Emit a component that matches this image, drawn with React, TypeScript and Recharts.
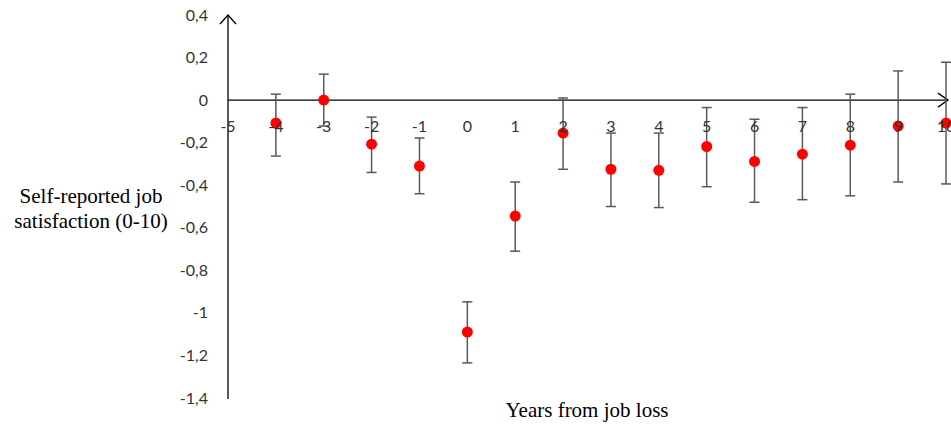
import React from 'react';
import { ScatterChart, Scatter, XAxis, YAxis, ErrorBar, ReferenceLine } from 'recharts';

const YEARS = [-4, -3, -2, -1, 0, 1, 2, 3, 4, 5, 6, 7, 8, 9, 10];
const EFFECT = [-0.108, 0.0, -0.207, -0.31, -1.09, -0.545, -0.155, -0.325, -0.33, -0.218, -0.288, -0.254, -0.212, -0.122, -0.108];
const CI_UPPER = [0.028, 0.122, -0.08, -0.178, -0.948, -0.385, 0.01, -0.155, -0.155, -0.035, -0.09, -0.035, 0.028, 0.137, 0.178];
const CI_LOWER = [-0.263, -0.122, -0.34, -0.44, -1.235, -0.71, -0.325, -0.5, -0.505, -0.407, -0.48, -0.468, -0.45, -0.385, -0.394];
const X_TICKS = [-5, -4, -3, -2, -1, 0, 1, 2, 3, 4, 5, 6, 7, 8, 9, 10];
const Y_TICKS = [0.4, 0.2, 0, -0.2, -0.4, -0.6, -0.8, -1, -1.2, -1.4];

const data = YEARS.map((x, i) => ({
  x,
  y: EFFECT[i],
  err: [EFFECT[i] - CI_LOWER[i], CI_UPPER[i] - EFFECT[i]],
}));
const tickData = X_TICKS.map((x) => ({ x, y: 0 }));

const TICK_FONT = 'Lato, "Open Sans", sans-serif';
const SERIF = '"Liberation Serif", "Times New Roman", serif';

const fmt = (v: number) => String(Math.round(v * 10) / 10).replace('.', ',');

const YTick = (p: any) => (
  <text x={p.x} y={p.y} dy="0.35em" textAnchor="end" fontFamily={TICK_FONT} fontSize={16} fill="#333">
    {fmt(p.payload.value)}
  </text>
);

const XTickLabel = (p: any) => (
  <text x={p.cx} y={p.cy + 26} dy="0.35em" textAnchor="middle" fontFamily={TICK_FONT} fontSize={16} fill="#333">
    {fmt(p.payload.x)}
  </text>
);

const Dot = (p: any) => <circle cx={p.cx} cy={p.cy} r={5.5} fill="#FF0000" />;

const HLine = (p: any) => {
  const xr = Math.max(p.x1, p.x2);
  const xl = Math.min(p.x1, p.x2);
  const y = p.y1;
  return (
    <g>
      <line x1={xl} y1={y} x2={xr + 2} y2={y} stroke="#000" strokeWidth={1.3} />
      <path d={`M${xr - 8},${y - 7} L${xr + 2},${y} L${xr - 8},${y + 7}`} fill="none" stroke="#000" strokeWidth={1.3} />
    </g>
  );
};

const VLine = (p: any) => {
  const yt = Math.min(p.y1, p.y2);
  const yb = Math.max(p.y1, p.y2);
  const x = p.x1;
  return (
    <g>
      <line x1={x} y1={yt} x2={x} y2={yb + 1} stroke="#000" strokeWidth={1.3} />
      <path d={`M${x - 8},${yt + 9} L${x},${yt} L${x + 8},${yt + 9}`} fill="none" stroke="#000" strokeWidth={1.3} />
    </g>
  );
};

const YLabel = () => {
  const cx = 91;
  return (
    <text textAnchor="middle" fontFamily={SERIF} fontSize={21} fill="#000">
      <tspan x={cx} y={203}>Self-reported job</tspan>
      <tspan x={cx} y={228}>satisfaction (0-10)</tspan>
    </text>
  );
};

const XLabel = (p: any) => {
  const vb = p.viewBox || { x: 228, width: 718, y: 398 };
  return (
    <text x={vb.x + vb.width / 2} y={417} textAnchor="middle" fontFamily={SERIF} fontSize={21} fill="#000">
      Years from job loss
    </text>
  );
};

export default function App() {
  return (
    <div style={{ position: 'absolute', left: 0, top: 0, width: 951, height: 427, background: '#fff' }}>
      <ScatterChart width={951} height={427} margin={{ top: 15, right: 5, bottom: 0, left: 0 }}>
        <XAxis
          type="number"
          dataKey="x"
          domain={[-5, 10]}
          ticks={X_TICKS}
          tick={false}
          axisLine={false}
          tickLine={false}
          height={29}
          label={<XLabel />}
        />
        <YAxis
          type="number"
          dataKey="y"
          domain={[-1.4, 0.4]}
          ticks={Y_TICKS}
          tick={<YTick />}
          axisLine={false}
          tickLine={false}
          tickSize={0}
          tickMargin={20}
          width={228}
          interval={0}
          label={<YLabel />}
        />
        <ReferenceLine x={-5} shape={<VLine />} ifOverflow="visible" />
        <ReferenceLine y={0} shape={<HLine />} ifOverflow="visible" />
        <Scatter data={data} shape={<Dot />} isAnimationActive={false}>
          <ErrorBar dataKey="err" direction="y" width={5} stroke="#595959" strokeWidth={1.5} />
        </Scatter>
        <Scatter data={tickData} shape={<XTickLabel />} isAnimationActive={false} />
      </ScatterChart>
    </div>
  );
}
